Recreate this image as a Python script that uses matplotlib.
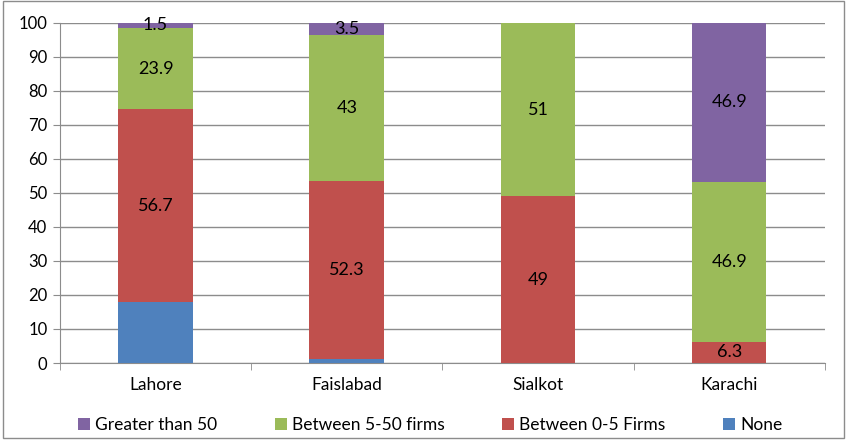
import matplotlib.pyplot as plt
import numpy as np
from matplotlib.patches import Rectangle

plt.rcParams['font.family'] = ['Lato', 'DejaVu Sans']

# Data
cities = ['Lahore', 'Faislabad', 'Sialkot', 'Karachi']
none_vals = [17.9, 1.2, 0.0, 0.0]
firms_0_5 = [56.7, 52.3, 49.0, 6.3]
firms_5_50 = [23.9, 43.0, 51.0, 46.9]
greater_50 = [1.5, 3.5, 0.0, 46.9]

series = [
    ('None', none_vals, '#4F81BD', False),
    ('Between 0-5 Firms', firms_0_5, '#C0504D', True),
    ('Between 5-50 firms', firms_5_50, '#9BBB59', True),
    ('Greater than 50', greater_50, '#8064A2', True),
]

fig = plt.figure(figsize=(8.47, 4.4), dpi=100)
ax = fig.add_axes([0.0708, 0.175, 0.903, 0.773])

x = np.arange(len(cities))
bottom = np.zeros(len(cities))
handles = {}
for name, vals, color, show_label in series:
    vals = np.array(vals)
    bars = ax.bar(x, vals, width=0.39, bottom=bottom, color=color,
                  edgecolor='none', zorder=3, label=name)
    handles[name] = bars
    if show_label:
        for xi, b, v in zip(x, bottom, vals):
            if v > 0:
                ax.text(xi, b + v / 2, f'{v:g}', ha='center', va='center',
                        fontsize=13, color='black', zorder=4)
    bottom += vals

ax.set_xlim(-0.5, len(cities) - 0.5)
ax.set_ylim(0, 100)
ax.set_yticks(np.arange(0, 101, 10))
ax.yaxis.grid(True, color='#8c8c8c', linewidth=1, zorder=0)
ax.set_axisbelow(True)

ax.set_xticks(x)
ax.set_xticklabels(cities, fontsize=12.5)
ax.set_xticks(np.arange(-0.5, len(cities)), minor=True)
ax.tick_params(axis='x', which='major', length=0, pad=10)
ax.tick_params(axis='x', which='minor', length=5, color='#8c8c8c', direction='out')
ax.tick_params(axis='y', length=5, color='#8c8c8c', labelsize=12, pad=4)

for side in ['top', 'right']:
    ax.spines[side].set_visible(False)
for side in ['left', 'bottom']:
    ax.spines[side].set_color('#8c8c8c')

order = ['Greater than 50', 'Between 5-50 firms', 'Between 0-5 Firms', 'None']
fig.legend([handles[n] for n in order], order, loc='center',
           bbox_to_anchor=(0.508, 0.033), ncol=4, frameon=False,
           fontsize=12.5, handlelength=0.7, handleheight=0.7,
           handletextpad=0.3, columnspacing=3.3)

fig.patches.append(Rectangle((0.004, 0.004), 0.993, 0.993, transform=fig.transFigure,
                             fill=False, edgecolor='#8c8c8c', linewidth=1))

fig.savefig('out.png', dpi=100)
